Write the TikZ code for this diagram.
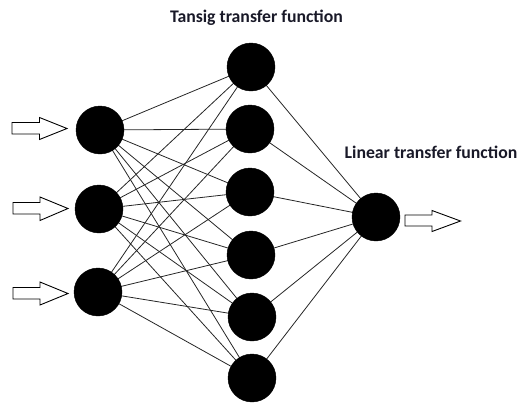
\documentclass[tikz,border=0pt]{standalone}
\usepackage{fontspec}
\setmainfont{Carlito}
\usetikzlibrary{backgrounds}
\definecolor{txt}{RGB}{25,25,40}
\begin{document}
\begin{tikzpicture}[x=1bp,y=-1bp,
  neuron/.style={circle,fill=black,draw=black,minimum size=48bp,inner sep=0pt},
  link/.style={draw=black!85,line width=0.8bp},
  lbl/.style={font=\fontsize{17.8}{21}\selectfont\bfseries,text=txt,inner sep=0pt,anchor=base},
  blockarrow/.style={draw=black,line width=0.9bp,fill=white,line join=miter}]
\useasboundingbox (0,0) rectangle (520,404);
% input neurons
\node[neuron] (i1) at (100,130) {};
\node[neuron] (i2) at (99,209) {};
\node[neuron] (i3) at (98,292) {};
% hidden neurons
\node[neuron] (h1) at (251,67) {};
\node[neuron] (h2) at (250,129) {};
\node[neuron] (h3) at (250,192) {};
\node[neuron] (h4) at (251,255) {};
\node[neuron] (h5) at (252,317) {};
\node[neuron] (h6) at (252,378) {};
% output neuron
\node[neuron] (o) at (376,217) {};
% labels
\node[lbl] (tl) at (256.5,22.7) {Tansig transfer function};
\node[lbl] (ll) at (431,158) {Linear transfer function};
\begin{scope}[on background layer]
\foreach \i in {1,2,3}{
  \foreach \h in {1,...,6}{
    \draw[link] (i\i.center) -- (h\h.center);
  }
}
\foreach \h in {1,...,6}{
  \draw[link] (h\h.center) -- (o.center);
}
\end{scope}
% block arrows
\draw[blockarrow] (12,122.5) -- (39.5,122.5) -- (39.5,117.5) -- (67,128.5) -- (39.5,139.5) -- (39.5,134) -- (12,134) -- cycle;
\draw[blockarrow] (13,202.5) -- (40,202.5) -- (40,197) -- (68,208.5) -- (40,220.5) -- (40,214) -- (13,214) -- cycle;
\draw[blockarrow] (13,287.5) -- (40,287.5) -- (40,282) -- (68,293.5) -- (40,305) -- (40,299) -- (13,299) -- cycle;
\draw[blockarrow] (405,215) -- (432,215) -- (432,210.5) -- (460.5,221) -- (432,231.5) -- (432,226) -- (405,226) -- cycle;
\end{tikzpicture}
\end{document}
